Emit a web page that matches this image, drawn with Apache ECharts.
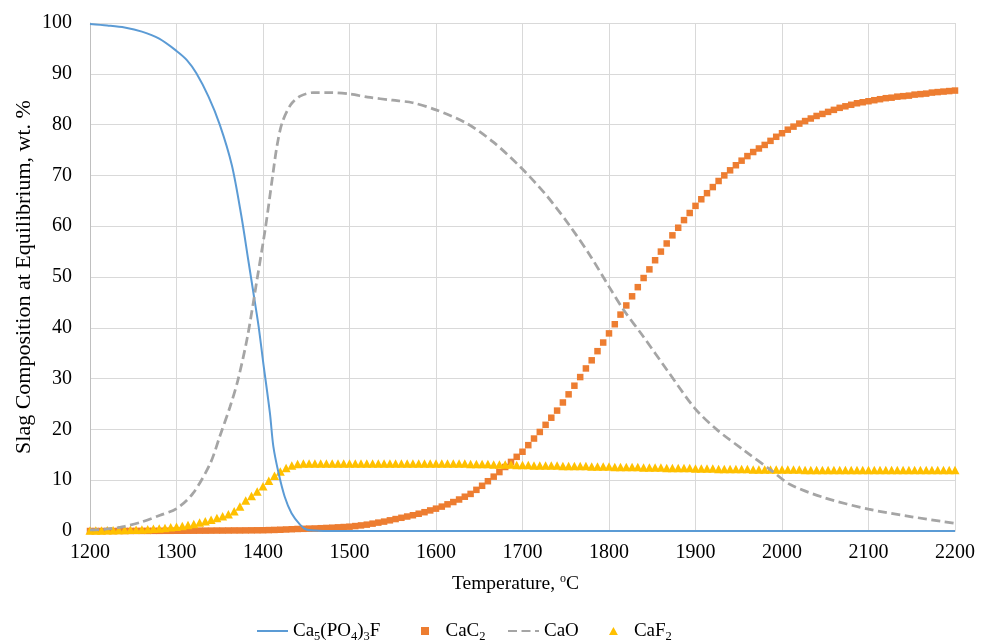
<!DOCTYPE html>
<html><head><meta charset="utf-8">
<script src="https://cdn.jsdelivr.net/npm/echarts@6/dist/echarts.min.js"></script>
<style>html,body{margin:0;padding:0;background:#fff}#c{width:988px;height:644px}</style>
</head><body><div id="c"></div>
<script>
// Temperatures (°C) at which the CaC2 and CaF2 markers are drawn
const temps = [
  1200,1206.7,1213.3, 1220,1226.7,1233.3, 1240,1246.7,1253.3, 1260,1266.7,1273.3, 1280,1286.7,1293.3,
  1300,1306.7,1313.3, 1320,1326.7,1333.3, 1340,1346.7,1353.3, 1360,1366.7,1373.3, 1380,1386.7,1393.3,
  1400,1406.7,1413.3, 1420,1426.7,1433.3, 1440,1446.7,1453.3, 1460,1466.7,1473.3, 1480,1486.7,1493.3,
  1500,1506.7,1513.3, 1520,1526.7,1533.3, 1540,1546.7,1553.3, 1560,1566.7,1573.3, 1580,1586.7,1593.3,
  1600,1606.7,1613.3, 1620,1626.7,1633.3, 1640,1646.7,1653.3, 1660,1666.7,1673.3, 1680,1686.7,1693.3,
  1700,1706.7,1713.3, 1720,1726.7,1733.3, 1740,1746.7,1753.3, 1760,1766.7,1773.3, 1780,1786.7,1793.3,
  1800,1806.7,1813.3, 1820,1826.7,1833.3, 1840,1846.7,1853.3, 1860,1866.7,1873.3, 1880,1886.7,1893.3,
  1900,1906.7,1913.3, 1920,1926.7,1933.3, 1940,1946.7,1953.3, 1960,1966.7,1973.3, 1980,1986.7,1993.3,
  2000,2006.7,2013.3, 2020,2026.7,2033.3, 2040,2046.7,2053.3, 2060,2066.7,2073.3, 2080,2086.7,2093.3,
  2100,2106.7,2113.3, 2120,2126.7,2133.3, 2140,2146.7,2153.3, 2160,2166.7,2173.3, 2180,2186.7,2193.3,
  2200
];
const cac2 = [
  0,0,0, 0,0,0.01, 0.01,0.01,0.02, 0.02,0.02,0.03, 0.03,0.04,0.04,
  0.05,0.05,0.06, 0.06,0.07,0.07, 0.08,0.09,0.09, 0.1,0.11,0.11, 0.12,0.13,0.14,
  0.15,0.18,0.21, 0.25,0.3,0.35, 0.4,0.43,0.47, 0.5,0.55,0.6, 0.65,0.72,0.78,
  0.85,0.97,1.1, 1.25,1.45,1.65, 1.85,2.1,2.35, 2.6,2.85,3.1, 3.4,3.7,4.05,
  4.4,4.8,5.25, 5.7,6.2,6.75, 7.3,8.1,8.9, 9.8,10.7,11.6, 12.6,13.6,14.6,
  15.6,16.9,18.2, 19.5,20.9,22.3, 23.7,25.3,26.9, 28.6,30.3,32.0, 33.6,35.4,37.1,
  38.9,40.7,42.6, 44.4,46.2,48.0, 49.8,51.5,53.3, 55.0,56.6,58.2, 59.7,61.2,62.6,
  64.0,65.3,66.5, 67.7,68.9,70.0, 71.0,72.0,72.9, 73.8,74.6,75.3, 76.0,76.8,77.6,
  78.3,79.0,79.6, 80.2,80.7,81.2, 81.7,82.1,82.5, 82.9,83.3,83.6, 83.9,84.2,84.4,
  84.6,84.8,85.0, 85.2,85.3,85.5, 85.6,85.7,85.9, 86.0,86.1,86.3, 86.4,86.5,86.6,
  86.7
];
const caf2 = [
  0.1,0.1,0.12, 0.15,0.17,0.18, 0.2,0.23,0.26, 0.3,0.36,0.43, 0.5,0.6,0.72,
  0.85,1.0,1.2, 1.4,1.65,1.9, 2.2,2.55,2.9, 3.3,3.9,4.8, 6.0,6.9,7.8,
  8.8,9.9,10.9, 11.7,12.4,12.9, 13.2,13.3,13.3, 13.3,13.3,13.3, 13.3,13.3,13.3,
  13.3,13.3,13.3, 13.3,13.3,13.3, 13.3,13.3,13.3, 13.3,13.3,13.3, 13.3,13.3,13.3,
  13.3,13.3,13.3, 13.3,13.3,13.3, 13.2,13.2,13.2, 13.2,13.1,13.1, 13.1,13.1,13.0,
  13.0,13.0,12.9, 12.9,12.9,12.9, 12.9,12.8,12.8, 12.8,12.8,12.8, 12.7,12.7,12.7,
  12.7,12.6,12.6, 12.6,12.6,12.6, 12.5,12.5,12.5, 12.5,12.4,12.4, 12.4,12.4,12.4,
  12.3,12.3,12.3, 12.3,12.2,12.2, 12.2,12.2,12.2, 12.2,12.1,12.1, 12.1,12.1,12.1,
  12.1,12.1,12.1, 12.1,12.0,12.0, 12.0,12.0,12.0, 12.0,12.0,12.0, 12.0,12.0,12.0,
  12.0,12.0,12.0, 12.0,12.0,12.0, 12.0,12.0,12.0, 12.0,12.0,12.0, 12.0,12.0,12.0,
  12.0
];
// Ca5(PO4)3F solid line
const apatiteT = [1200,1220,1240,1260,1280,1300,1312,1323,1337,1350,1364,1375,1383,1389,1395,1400,1408,1412,1418,1425,1433,1443,1450,1460,1480,1600,1800,2000,2200];
const apatiteV = [99.8,99.5,99.1,98.3,96.9,94.5,92.7,90.1,85.5,80.0,72.0,62.0,53.3,46.8,40.2,33.5,23.2,16.6,11.4,6.8,3.5,1.2,0.3,0.1,0,0,0,0,0];
// CaO dashed line
const caoT = [1200,1220,1240,1260,1281,1300,1319,1339,1350,1362,1371,1382,1393,1403,1411,1416,1422,1432,1443,1458,1478,1501,1521,1550,1573,1600,1635,1666,1699,1728,1755,1779,1800,1817,1840,1867,1899,1925,1956,1987,2010,2050,2100,2150,2200];
const caoV = [0.2,0.4,0.9,1.8,3.1,4.4,7.4,13.3,18.6,24.5,29.7,38.2,49.4,59.9,69.7,75.6,80.3,83.9,85.6,86.3,86.3,86.0,85.4,84.8,84.3,82.9,80.3,76.6,71.4,66.0,60.0,54.0,48.1,43.5,38.2,31.7,24.2,19.9,15.9,12.0,9.1,6.5,4.3,2.8,1.5];

const seriesNames = ['Ca5(PO4)3F','CaC2','CaO','CaF2'];
const legendLabels = {'Ca5(PO4)3F':'Ca{s|5}(PO{s|4}){s|3}F','CaC2':'CaC{s|2}','CaO':'CaO','CaF2':'CaF{s|2}'};

const pairs = (xs, ys) => xs.map((x, i) => [x, ys[i]]);
const FONT = '"Liberation Serif","Times New Roman",serif';

const legendText = {color: '#000', fontFamily: FONT, fontSize: 19, lineHeight: 24,
  rich: {s: {fontFamily: FONT, fontSize: 12.5, lineHeight: 12, verticalAlign: 'bottom', color: '#000', padding: [11, 0, 0, 0]}}};
const legendLefts = [251, 416, 502, 604];
const legendIcons = [null, 'path://M0,0H10V10H0Z', null, 'path://M5,0L10,9L0,9Z'];
const legends = seriesNames.map((n, i) => ({
  left: legendLefts[i], top: 614, itemWidth: 31, itemHeight: legendIcons[i] ? 8 : 9,
  symbolKeepAspect: true,
  data: [legendIcons[i] ? {name: n, icon: legendIcons[i]} : {name: n, itemStyle: {opacity: 0}}],
  formatter: name => legendLabels[name],
  textStyle: legendText
}));

const chart = echarts.init(document.getElementById('c'), null, {renderer: 'canvas'});
chart.setOption({
  animation: false,
  backgroundColor: '#ffffff',
  grid: {left: 90, right: 33, top: 23, bottom: 113},
  xAxis: {
    type: 'value', min: 1200, max: 2200, interval: 100,
    axisLine: {show: true, lineStyle: {color: '#BFBFBF', width: 1}},
    axisTick: {show: false},
    axisLabel: {color: '#000', fontFamily: FONT, fontSize: 20, margin: 12, formatter: v => String(v)},
    splitLine: {show: true, lineStyle: {color: '#D9D9D9', width: 1}},
    name: 'Temperature, {sup|o}C', nameLocation: 'middle', nameGap: 42,
    nameTextStyle: {color: '#000', fontFamily: FONT, fontSize: 19.5, lineHeight: 22, padding: [0, 14, 0, 0],
      rich: {sup: {fontFamily: FONT, fontSize: 12, lineHeight: 12, verticalAlign: 'top', color: '#000'}}}
  },
  yAxis: {
    type: 'value', min: 0, max: 100, interval: 10,
    axisLine: {show: true, lineStyle: {color: '#BFBFBF', width: 1}},
    axisTick: {show: false},
    axisLabel: {color: '#000', fontFamily: FONT, fontSize: 20, margin: 18, formatter: v => String(v)},
    splitLine: {show: true, lineStyle: {color: '#D9D9D9', width: 1}},
    name: 'Slag Composition at Equilibrium, wt. %', nameLocation: 'middle', nameGap: 55,
    nameMoveOverlap: false,
    nameTextStyle: {color: '#000', fontFamily: FONT, fontSize: 22}
  },
  legend: legends,
  series: [
    {name: seriesNames[0], type: 'line', data: pairs(apatiteT, apatiteV), symbol: 'none', smooth: 0.3,
     lineStyle: {color: '#5B9BD5', width: 2}, itemStyle: {color: '#5B9BD5'}},
    {name: seriesNames[1], type: 'scatter', data: pairs(temps, cac2), symbol: 'rect', symbolSize: 6.5,
     itemStyle: {color: '#ED7D31', opacity: 1}},
    {name: seriesNames[2], type: 'line', data: pairs(caoT, caoV), symbol: 'none', smooth: 0.3,
     lineStyle: {color: '#A5A5A5', width: 2.75, type: [9, 4.5]}, itemStyle: {color: '#A5A5A5'}},
    {name: seriesNames[3], type: 'scatter', data: pairs(temps, caf2), symbol: 'triangle', symbolSize: [9, 8.5],
     itemStyle: {color: '#FFC000', opacity: 1}}
  ]
});
</script></body></html>
